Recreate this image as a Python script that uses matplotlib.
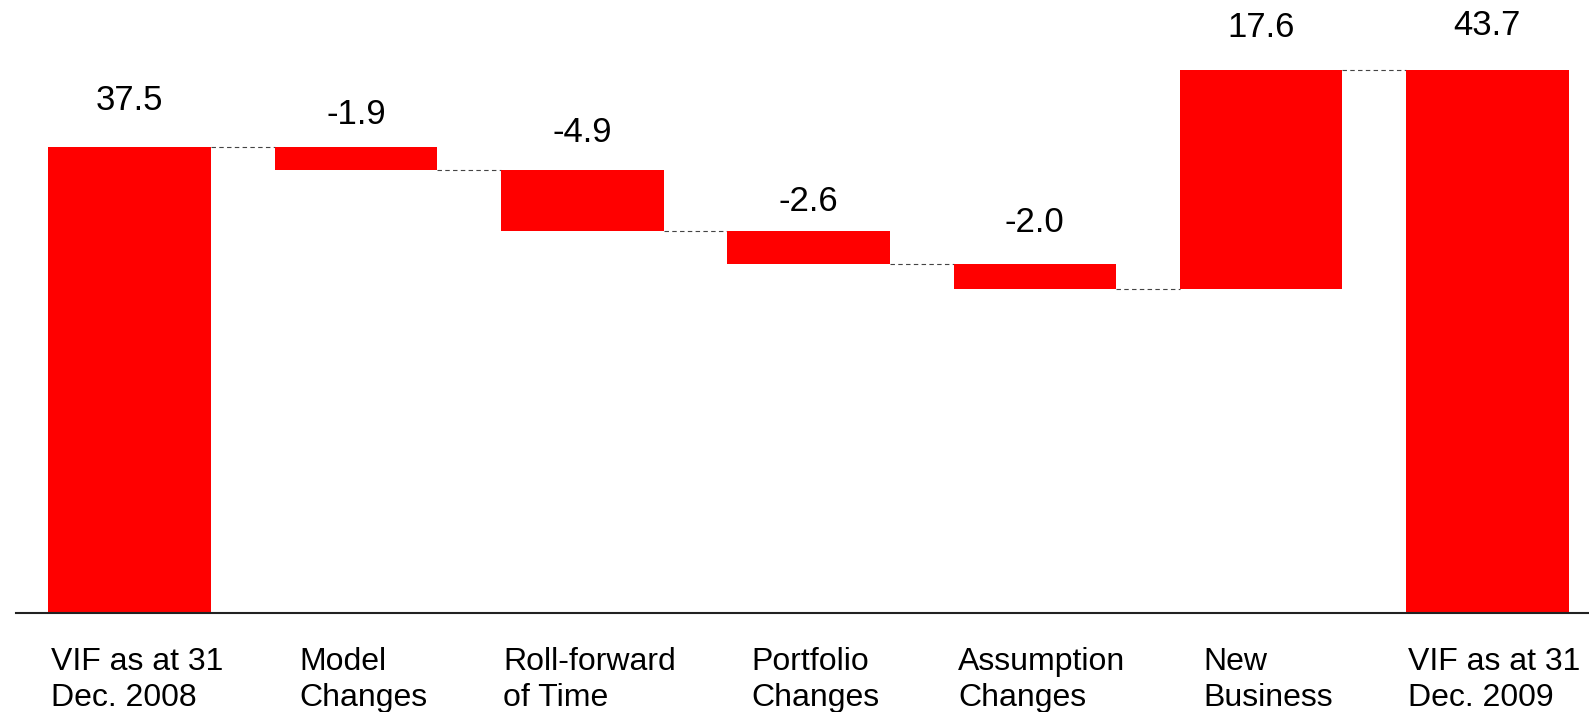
import matplotlib
matplotlib.use("Agg")
import numpy as np
import matplotlib.pyplot as plt

plt.rcParams['font.family'] = ['Liberation Sans', 'DejaVu Sans']

# Data
categories = ['VIF as at 31\nDec. 2008', 'Model\nChanges', 'Roll-forward\nof Time',
              'Portfolio\nChanges', 'Assumption\nChanges', 'New\nBusiness',
              'VIF as at 31\nDec. 2009']
values = [37.5, -1.9, -4.9, -2.6, -2.0, 17.6, 43.7]
is_total = [True, False, False, False, False, False, True]
value_labels = ['37.5', '-1.9', '-4.9', '-2.6', '-2.0', '17.6', '43.7']

# label gaps above bar tops (pixels)
label_gap = [46, 32, 38, 30, 41, 42, 44]

# waterfall geometry
bottoms, heights, levels = [], [], []
running = 0.0
for v, tot in zip(values, is_total):
    if tot:
        bottoms.append(0.0)
        heights.append(v)
        running = v
    else:
        new = running + v
        bottoms.append(min(running, new))
        heights.append(abs(v))
        running = new
    levels.append(running)

fig = plt.figure(figsize=(15.89, 7.12), dpi=100)
ax = fig.add_axes([16 / 1589, 99 / 712, 1573 / 1589, 613 / 712])

x = np.arange(len(values))
width = 0.718
ax.bar(x, heights, bottom=bottoms, width=width, color='#ff0000', zorder=2)

# dashed connectors
for i in range(len(values) - 1):
    ax.plot([x[i] + width / 2, x[i + 1] - width / 2], [levels[i], levels[i]],
            color='#444444', lw=0.8, linestyle=(0, (4, 3)), zorder=1)

# value labels
for i, lab in enumerate(value_labels):
    top = bottoms[i] + heights[i]
    ax.annotate(lab, xy=(x[i], top), xytext=(0, label_gap[i]),
                textcoords='offset pixels', ha='center', va='center', fontsize=25)

# category labels
for i, cat in enumerate(categories):
    ax.annotate(cat, xy=(x[i], 0), xytext=(7, -34), textcoords='offset pixels',
                ha='center', va='top', multialignment='left', fontsize=23,
                linespacing=1.28, annotation_clip=False)

ax.set_xlim(-0.5025, 6.449)
ax.set_ylim(0, 613 / 12.43)
for s in ['top', 'left', 'right']:
    ax.spines[s].set_visible(False)
ax.spines['bottom'].set_linewidth(1.5)
ax.spines['bottom'].set_color('#222222')
ax.set_xticks([])
ax.set_yticks([])

fig.savefig('out.png', dpi=100)
